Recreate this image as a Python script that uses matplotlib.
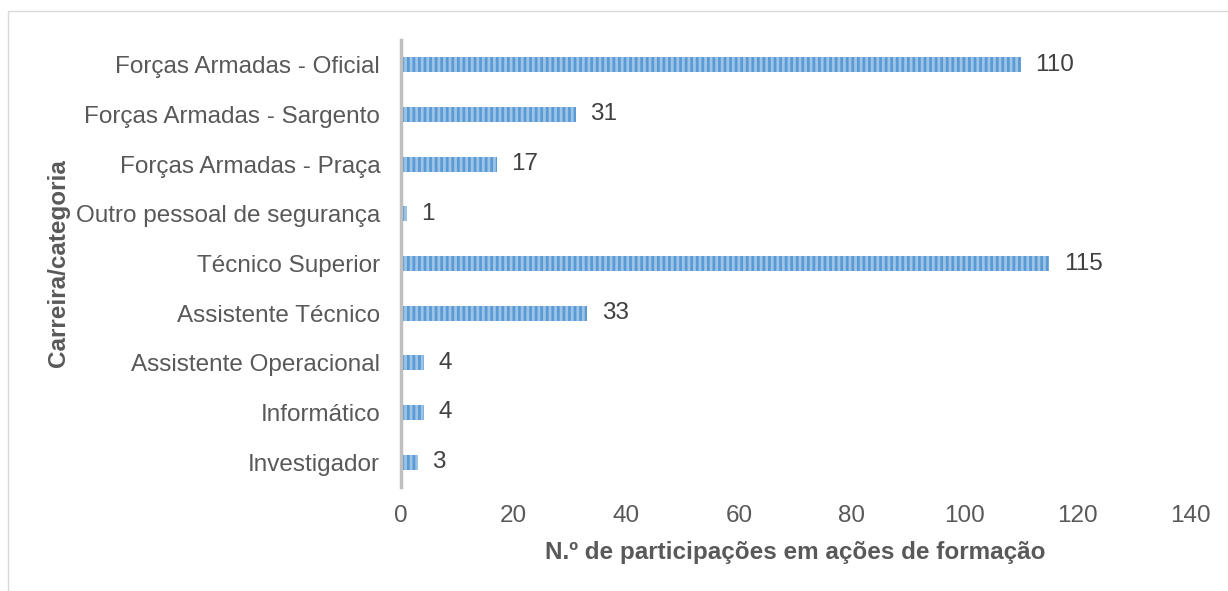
import matplotlib.pyplot as plt
from matplotlib.patches import Rectangle

categories = [
    "Forças Armadas - Oficial",
    "Forças Armadas - Sargento",
    "Forças Armadas - Praça",
    "Outro pessoal de segurança",
    "Técnico Superior",
    "Assistente Técnico",
    "Assistente Operacional",
    "Informático",
    "Investigador",
]
values = [110, 31, 17, 1, 115, 33, 4, 4, 3]
xticks = [0, 20, 40, 60, 80, 100, 120, 140]

plt.rcParams["font.family"] = ["Liberation Sans", "DejaVu Sans"]
plt.rcParams["hatch.linewidth"] = 2.0

fig = plt.figure(figsize=(12.28, 5.91), dpi=100)
ax = fig.add_axes([401 / 1228, 1 - 487 / 591, (1190 - 401) / 1228, (487 - 40) / 591])

# frame around the chart
fig.patches.append(Rectangle((8 / 1228, -0.1), 1.2, 1 - 11 / 591 + 0.1, transform=fig.transFigure,
                             fill=False, edgecolor="#d9d9d9", linewidth=1))

ypos = list(range(len(categories)))[::-1]
ax.barh(ypos, values, height=0.3, color="#9dc3e6", edgecolor="#5b9bd5",
        hatch="|||", linewidth=0)
for y, v in zip(ypos, values):
    ax.text(v + 2.6, y, str(v), va="center", ha="left", fontsize=17.5, color="#404040")

ax.set_xlim(0, 140)
ax.set_ylim(-0.5, len(categories) - 0.5)
ax.set_xticks(xticks)
ax.set_yticks(ypos)
ax.set_yticklabels(categories)
ax.tick_params(axis="both", length=0, labelsize=17.5, labelcolor="#595959")
ax.tick_params(axis="x", pad=13)
ax.tick_params(axis="y", pad=15)
for s in ["top", "right", "bottom"]:
    ax.spines[s].set_visible(False)
ax.spines["left"].set_color("#bfbfbf")
ax.spines["left"].set_linewidth(2.5)

ax.set_xlabel("N.º de participações em ações de formação", fontsize=17.5, fontweight="bold",
              color="#595959", labelpad=10)
ax.set_ylabel("Carreira/categoria", fontsize=17.5, fontweight="bold", color="#595959", labelpad=4)

fig.savefig("out.png", dpi=100)
